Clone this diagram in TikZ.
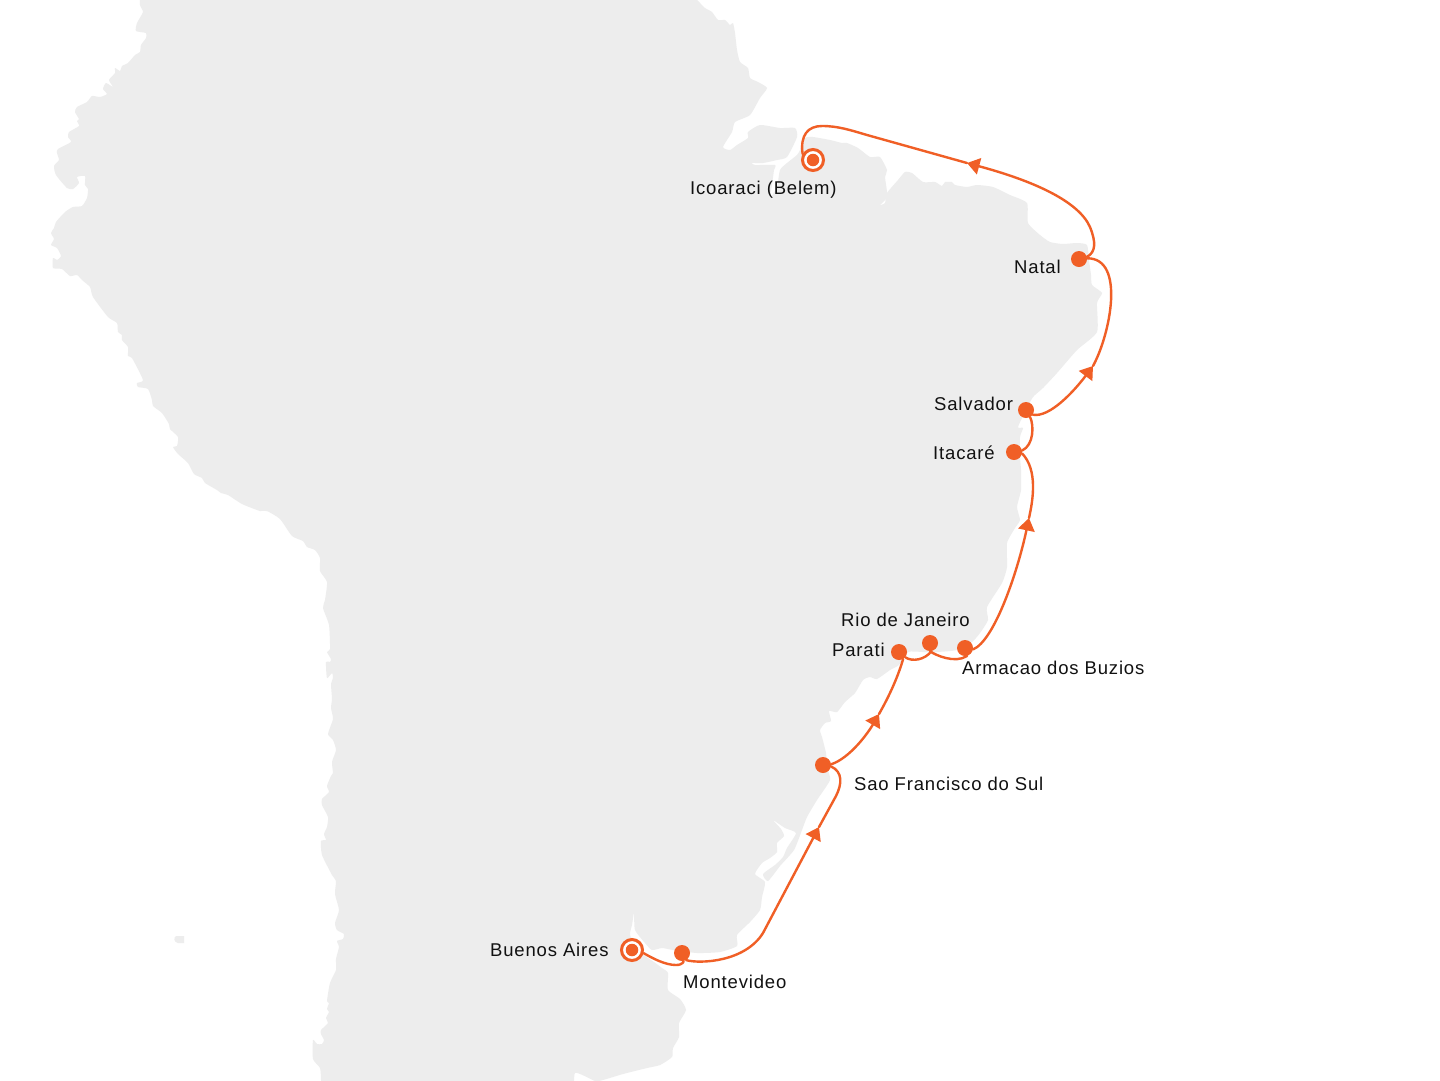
\documentclass[tikz,border=0pt]{standalone}
\usepackage{fontspec}
\setmainfont[LetterSpace=4.5]{Liberation Sans}
\usetikzlibrary{arrows.meta}
\definecolor{land}{HTML}{EDEDED}
\definecolor{routec}{HTML}{F05F26}
\definecolor{ink}{HTML}{111111}
\tikzset{
  landfill/.style={fill=land,draw=none},
  route/.style={draw=routec,line width=2.4pt,line cap=round},
  routetip/.style={route,-{Triangle[length=12.5pt,width=16.5pt,fill=routec]}},
  portdot/.style={circle,fill=routec,draw=none,minimum size=16pt,inner sep=0pt},
  endring/.style={circle,fill=white,draw=routec,line width=3pt,minimum size=21pt,inner sep=0pt},
  enddot/.style={circle,fill=routec,draw=none,minimum size=12.5pt,inner sep=0pt},
  portlabel/.style={anchor=base west,inner sep=0pt,text=ink,font=\fontsize{18.5}{20}\selectfont},
}
\begin{document}
\begin{tikzpicture}[x=1pt,y=-1pt]
\useasboundingbox (0,0) rectangle (1440,1080);
\fill[white] (0,0) rectangle (1440,1080);
\begin{scope}
\clip (0,0) rectangle (1440,1080);
\fill[landfill] plot[smooth cycle,tension=0.35] coordinates {
(140,-40)(140,-10)(140,5)(143,12)(137,23)(136,31)(146,33)(146,38)(141,45)(140,52)(135,55)(128,63)(122,66)(120,71)(115,68)(115,73)(109,80)(113,87)(106,83)(103,89)(107,94)(100,97)(92,96)(87,102)(77,107)(75,112)(79,119)(77,121)(79,126)(69,132)(68,137)(71,142)(58,149)(57,153)(59,160)(54,166)(56,175)(67,188)(73,189)(79,183)(77,177)(85,176)(85,185)(88,189)(87,198)(82,206)(73,207)(65,212)(56,222)(54,228)(51,233)(54,239)(51,245)(57,248)(61,256)(57,260)(53,258)(53,268)(62,269)(70,276)(77,275)(82,280)(90,287)(93,297)(108,317)(117,323)(118,332)(122,335)(122,340)(128,347)(128,356)(132,358)(143,380)(137,383)(138,387)(148,389)(152,400)
(153,406)(162,413)(169,424)(170,429)(178,437)(177,446)(173,447)(178,454)(188,463)(194,474)(202,478)(205,483)(217,490)(221,493)(228,495)(242,504)(260,511)(267,511)(280,519)(292,536)(303,541)(307,547)(315,550)(320,558)(320,571)(327,582)(325,600)(323,608)(329,625)(330,649)(327,652)(331,659)(330,662)(326,662)(327,678)(332,673)(333,678)(331,684)(332,699)(331,708)(333,719)(328,734)(333,740)(336,750)(332,762)(333,773)(331,776)(327,786)(329,792)(322,799)(322,805)(328,817)(327,827)(324,834)(326,840)(321,841)(322,855)(332,875)(336,881)(335,894)(339,910)(335,923)(337,930)(344,934)(343,939)(337,941)(339,947)(336,959)(336,970)(330,983)(327,1001)(329,1003)(327,1009)(329,1012)(326,1018)(328,1023)(321,1030)(321,1034)(324,1040)(322,1044)(317,1044)(313,1040)(313,1059)(320,1068)(321,1080)(321,1100)(321,1130)
(575,1130)(575,1100)(575,1073)(595,1081)(603,1080)(623,1074)(647,1068)(660,1065)(672,1057)(673,1048)(679,1037)(679,1023)(686,1010)(680,999)(668,990)(668,973)(662,968)
(654,962)(645,956)(638,950)(630,935)(632,925)(634,913)(635,930)(645,943)(652,950)(662,948)(673,950)(697,953)(720,952)(737,946)(737,935)(750,922)(760,910)(762,897)(765,882)(755,874)(762,863)(770,858)(777,852)(777,843)(784,836)(781,829)(773,820)(785,828)(796,833)(787,848)(783,857)(775,865)(763,874)(768,881)(780,866)(794,850)(802,830)(807,817)(817,800)(830,780)(827,767)(826,753)(822,737)(820,730)(825,723)(831,721)(829,711)(837,712)(845,702)(855,693)(863,680)(870,677)(877,679)(890,670)(899,665)(908,652)(923,652)(937,652)(957,650)(972,642)(980,633)(988,620)(987,607)(1002,583)(1007,567)(1007,543)(1015,528)(1020,520)(1017,507)(1021,490)(1021,470)(1020,457)(1020,437)(1023,428)(1018,427)(1026,410)(1033,397)(1043,388)(1057,373)(1077,350)(1097,332)(1097,303)(1102,293)(1092,285)(1091,275)(1089,260)(1087,245)(1077,243)(1063,244)(1050,242)(1040,235)(1028,223)(1027,203)(1010,195)(993,187)(977,185)(967,187)(955,185)(952,182)(945,182)(942,186)(935,182)(923,182)(912,173)(905,172)(898,180)(887,193)(885,203)(880,205)(885,200)(887,192)(885,177)(887,170)(880,157)(870,157)(858,148)(847,143)(842,143)(830,140)(813,137)(805,138)(800,150)(797,155)(787,163)(780,170)(777,187)(770,198)(772,185)(774,170)(775,165)(755,165)(752,163)(763,163)(777,160)(787,157)(797,137)(795,128)(780,128)(760,125)(748,132)(748,138)(737,145)(730,150)(723,147)(732,132)(735,122)(750,115)(760,98)(767,88)(758,82)(750,78)(748,68)(740,62)(737,50)(735,33)(733,23)(730,25)(725,20)(718,20)(712,12)(705,8)(697,0)(680,-15)(670,-40)};
\fill[landfill] (176,936) -- (184,936) -- (184,943) -- (178,943) .. controls (173,942) and (174,937) .. (176,936) -- cycle;
\end{scope}
% ports
\node[endring] (ba) at (632,950) {};
\node[enddot] (badot) at (ba) {};
\node[portdot] (mv) at (682,953) {};
\node[portdot] (sf) at (823,765) {};
\node[portdot] (parati) at (899,652) {};
\node[portdot] (rio) at (930,643) {};
\node[portdot] (buzios) at (965,648) {};
\node[portdot] (itacare) at (1014,452) {};
\node[portdot] (salvador) at (1026,410) {};
\node[portdot] (natal) at (1079,259) {};
\node[endring] (ico) at (813,160) {};
\node[enddot] (icodot) at (ico) {};
% arrow tips
\coordinate (a1) at (819,827);
\coordinate (a2) at (879,714);
\coordinate (a3) at (1029,518);
\coordinate (a4) at (1093,366);
\coordinate (a5) at (967,163);
% routes
\draw[route] (ba.-15) .. controls (652,958) and (665,965) .. (676,965) .. controls (683,965) and (684,961) .. (mv.-80);
\draw[routetip] (mv.-60) .. controls (700,964) and (745,962) .. (763,933) -- (a1);
\draw[route] (a1) -- (836,796) .. controls (842,784) and (843,772) .. (sf.-10);
\draw[routetip] (sf.5) .. controls (850,758) and (868,733) .. (a2);
\draw[route] (a2) .. controls (887,700) and (897,680) .. (parati.-60);
\draw[route] (parati.-40) .. controls (912,662) and (925,660) .. (rio.-80);
\draw[route] (rio.-90) .. controls (935,655) and (955,664) .. (buzios.-75);
\draw[routetip] (buzios.-10) .. controls (995,640) and (1018,570) .. (a3);
\draw[route] (a3) .. controls (1033,500) and (1038,470) .. (itacare.-10);
\draw[route] (itacare.10) .. controls (1034,445) and (1034,425) .. (salvador.-60);
\draw[routetip] (salvador.-35) .. controls (1050,418) and (1075,390) .. (a4);
\draw[route] (a4) .. controls (1110,335) and (1126,258) .. (natal.5);
\draw[route] (natal.15) .. controls (1096,252) and (1096,242) .. (1090,227);
\draw[routetip] (1090,227) .. controls (1078,200) and (1030,180) .. (a5);
\draw[route] (a5) -- (867,135) .. controls (850,130) and (838,126) .. (822,126) .. controls (808,126) and (800,135) .. (ico.150);
% labels
\node[portlabel] (l1) at (690,194) {Icoaraci (Belem)};
\node[portlabel] (l2) at (1014,273) {Natal};
\node[portlabel] (l3) at (934,410) {Salvador};
\node[portlabel] (l4) at (933,459) {Itacaré};
\node[portlabel] (l5) at (841,626) {Rio de Janeiro};
\node[portlabel] (l6) at (832,656) {Parati};
\node[portlabel] (l7) at (962,674) {Armacao dos Buzios};
\node[portlabel] (l8) at (854,790) {Sao Francisco do Sul};
\node[portlabel] (l9) at (490,956) {Buenos Aires};
\node[portlabel] (l10) at (683,988) {Montevideo};
\end{tikzpicture}
\end{document}
